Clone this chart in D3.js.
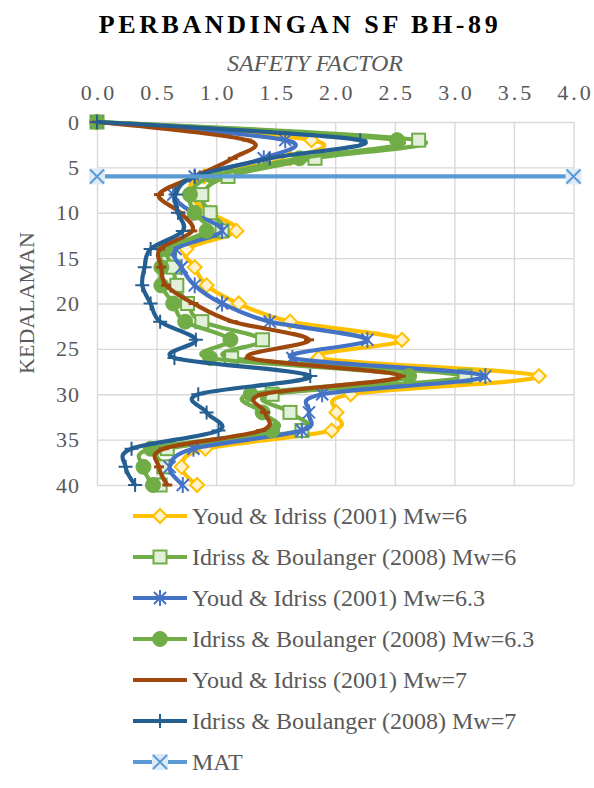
<!DOCTYPE html>
<html>
<head>
<meta charset="utf-8">
<script src="https://cdn.jsdelivr.net/npm/d3@7"></script>
<style>
  body { margin: 0; background: #fff; }
  svg { display: block; font-family: "Liberation Serif", "Times New Roman", serif; }
</style>
</head>
<body>
<div id="chart"></div>
<script>
// depths (m) shared by every series
var depth = [0, 2, 4, 6, 8, 10, 12, 14, 16, 18, 20, 22, 24, 26, 28, 30, 32, 34, 36, 38, 40];

// safety factor
var youd6    = [0, 1.80, 1.62, 0.90, 0.78, 0.95, 1.17, 0.75, 0.82, 0.92, 1.19, 1.62, 2.56, 1.86, 3.71, 2.13, 2.01, 1.97, 0.91, 0.71, 0.84];
var idriss6  = [0, 2.70, 1.83, 1.10, 0.88, 0.95, 1.05, 0.61, 0.64, 0.67, 0.76, 0.88, 1.39, 1.13, 3.09, 1.47, 1.62, 1.72, 0.59, 0.56, 0.53];
var youd63   = [0, 1.58, 1.40, 0.82, 0.64, 0.80, 1.05, 0.66, 0.71, 0.82, 1.05, 1.45, 2.27, 1.64, 3.26, 1.89, 1.78, 1.72, 0.81, 0.61, 0.72];
var idriss63 = [0, 2.52, 1.70, 0.97, 0.78, 0.82, 0.92, 0.57, 0.54, 0.54, 0.64, 0.74, 1.12, 0.95, 2.62, 1.29, 1.39, 1.47, 0.45, 0.39, 0.47];
var youd7    = [0, 1.26, 1.14, 0.82, 0.52, 0.70, 0.80, 0.53, 0.54, 0.58, 0.81, 1.14, 1.78, 1.28, 2.55, 1.39, 1.41, 1.38, 0.56, 0.52, 0.59];
var idriss7  = [0, 2.21, 1.45, 0.82, 0.66, 0.68, 0.72, 0.45, 0.40, 0.38, 0.45, 0.53, 0.83, 0.65, 1.79, 0.85, 0.92, 1.02, 0.29, 0.24, 0.32];

// muka air tanah
var matSF = [0, 4];
var matDepth = [6, 6];

var xTicks = [0, 0.5, 1, 1.5, 2, 2.5, 3, 3.5, 4];
var yTicks = [0, 5, 10, 15, 20, 25, 30, 35, 40];

var names = [
    "Youd & Idriss (2001) Mw=6",
    "Idriss & Boulanger (2008) Mw=6",
    "Youd & Idriss (2001) Mw=6.3",
    "Idriss & Boulanger (2008) Mw=6.3",
    "Youd & Idriss (2001) Mw=7",
    "Idriss & Boulanger (2008) Mw=7",
    "MAT"
];

var width = 594,
    height = 788,
    plotLeft = 97,
    plotRight = 573.5,
    plotTop = 122,
    plotBottom = 485;

var x = d3.scaleLinear().domain([0, 4]).range([plotLeft, plotRight]);
var y = d3.scaleLinear().domain([0, 40]).range([plotTop, plotBottom]);

var svg = d3.select("#chart").append("svg")
    .attr("width", width)
    .attr("height", height);

// title
svg.append("text")
    .attr("x", 300)
    .attr("y", 33)
    .attr("text-anchor", "middle")
    .attr("font-size", 26)
    .attr("font-weight", "bold")
    .attr("letter-spacing", 3.6)
    .attr("fill", "#000")
    .text("PERBANDINGAN SF BH-89");

svg.append("text")
    .attr("x", 315)
    .attr("y", 71)
    .attr("text-anchor", "middle")
    .attr("font-size", 24)
    .attr("font-style", "italic")
    .attr("fill", "#595959")
    .text("SAFETY FACTOR");

svg.append("text")
    .attr("transform", "translate(34,303) rotate(-90)")
    .attr("text-anchor", "middle")
    .attr("font-size", 22)
    .attr("fill", "#595959")
    .text("KEDALAMAN");

// gridlines + tick labels
var xAxis = svg.append("g")
    .attr("transform", "translate(0," + plotTop + ")")
    .call(d3.axisTop(x).tickValues(xTicks).tickFormat(d3.format(".1f"))
        .tickSizeInner(-(plotBottom - plotTop)).tickSizeOuter(0).tickPadding(22));

var yAxis = svg.append("g")
    .attr("transform", "translate(" + plotLeft + ",0)")
    .call(d3.axisLeft(y).tickValues(yTicks)
        .tickSizeInner(-(plotRight - plotLeft)).tickSizeOuter(0).tickPadding(17));

[xAxis, yAxis].forEach(function(ax) {
    ax.select(".domain").remove();
    ax.selectAll("line").attr("stroke", "#D9D9D9").attr("stroke-width", 1.4);
    ax.selectAll("text")
        .attr("font-family", "Liberation Serif, serif")
        .attr("font-size", 22)
        .attr("fill", "#595959");
});
xAxis.selectAll("text").attr("letter-spacing", 3).attr("dx", 1.5);
yAxis.selectAll("text").attr("letter-spacing", 1);

// series styles
var series = [
    { name: names[0], sf: youd6,    dep: depth, color: "#FFC000", marker: "diamond" },
    { name: names[1], sf: idriss6,  dep: depth, color: "#70AD47", marker: "square" },
    { name: names[2], sf: youd63,   dep: depth, color: "#4472C4", marker: "star" },
    { name: names[3], sf: idriss63, dep: depth, color: "#70AD47", marker: "circle" },
    { name: names[4], sf: youd7,    dep: depth, color: "#9E480E", marker: "dash" },
    { name: names[5], sf: idriss7,  dep: depth, color: "#255E91", marker: "plus" },
    { name: names[6], sf: matSF,    dep: matDepth, color: "#5B9BD5", marker: "x" }
];

function drawMarker(g, type, color) {
    if (type == "diamond") {
        g.append("path").attr("d", "M0,-7L7,0L0,7L-7,0Z")
            .attr("fill", "#FFF2CC").attr("stroke", color).attr("stroke-width", 2);
    } else if (type == "square") {
        g.append("rect").attr("x", -6.5).attr("y", -6.5).attr("width", 13).attr("height", 13)
            .attr("fill", "#E2F0D9").attr("stroke", color).attr("stroke-width", 2);
    } else if (type == "star") {
        g.append("path").attr("d", "M-6,-6L6,6M-6,6L6,-6M0,-8V8")
            .attr("fill", "none").attr("stroke", color).attr("stroke-width", 2);
    } else if (type == "circle") {
        g.append("circle").attr("r", 7.5).attr("fill", color).attr("stroke", color).attr("stroke-width", 1);
    } else if (type == "dash") {
        g.append("path").attr("d", "M-5,0H5")
            .attr("fill", "none").attr("stroke", color).attr("stroke-width", 3);
    } else if (type == "plus") {
        g.append("path").attr("d", "M-7,0H7M0,-7V7")
            .attr("fill", "none").attr("stroke", color).attr("stroke-width", 2);
    } else if (type == "x") {
        g.append("rect").attr("x", -8).attr("y", -8).attr("width", 16).attr("height", 16)
            .attr("fill", "#DEEBF7");
        g.append("path").attr("d", "M-7,-7L7,7M-7,7L7,-7")
            .attr("fill", "none").attr("stroke", color).attr("stroke-width", 2);
    }
}

var smooth = d3.line()
    .x(function(d) { return x(d[0]); })
    .y(function(d) { return y(d[1]); })
    .curve(d3.curveCatmullRom.alpha(0));

var straight = d3.line()
    .x(function(d) { return x(d[0]); })
    .y(function(d) { return y(d[1]); });

series.forEach(function(s) {
    var pts = s.sf.map(function(v, i) { return [v, s.dep[i]]; });
    var g = svg.append("g");
    g.append("path")
        .attr("d", s.marker == "x" ? straight(pts) : smooth(pts))
        .attr("fill", "none")
        .attr("stroke", s.color)
        .attr("stroke-width", 4.2)
        .attr("stroke-linejoin", "round");
    pts.forEach(function(p) {
        var m = g.append("g").attr("transform", "translate(" + x(p[0]) + "," + y(p[1]) + ")");
        drawMarker(m, s.marker, s.color);
    });
});

// legend
var legend = svg.append("g");
series.forEach(function(s, i) {
    var ly = 516 + i * 41;
    var row = legend.append("g").attr("transform", "translate(0," + ly + ")");
    row.append("line")
        .attr("x1", 133).attr("x2", 187)
        .attr("stroke", s.color).attr("stroke-width", 4.2);
    drawMarker(row.append("g").attr("transform", "translate(160,0)"), s.marker, s.color);
    row.append("text")
        .attr("x", 192)
        .attr("y", 8)
        .attr("font-size", 24)
        .attr("fill", "#595959")
        .text(s.name);
});
</script>
</body>
</html>
